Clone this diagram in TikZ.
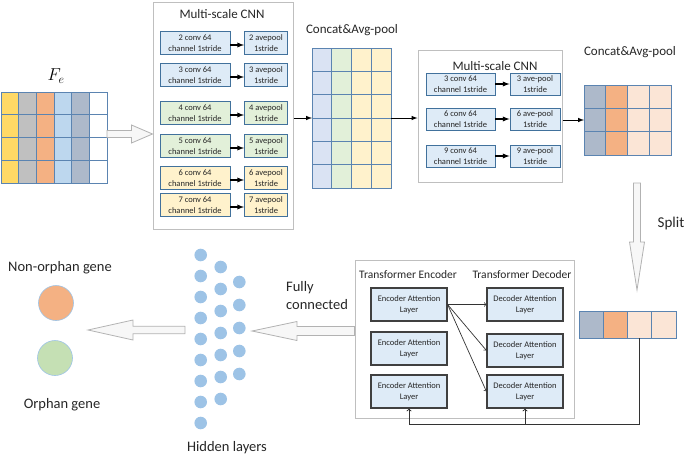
\documentclass[tikz,border=0pt]{standalone}
\usepackage{fontspec}
\setmainfont{Carlito}
\usetikzlibrary{calc}

\definecolor{fyellow}{HTML}{FFD966}
\definecolor{fgray}{HTML}{C0C0C0}
\definecolor{forange}{HTML}{F4B183}
\definecolor{fblue}{HTML}{BDD7EE}
\definecolor{fslate}{HTML}{ADB9CA}
\definecolor{lblue}{HTML}{DAE3F3}
\definecolor{lgreen}{HTML}{E2F0D9}
\definecolor{lyellow}{HTML}{FFF2CC}
\definecolor{peach}{HTML}{FBE5D6}
\definecolor{gridline}{HTML}{5B84B1}
\definecolor{boxline}{HTML}{41719C}
\definecolor{boxblue}{HTML}{DEEBF7}
\definecolor{dotblue}{HTML}{9DC3E6}
\definecolor{ggreen}{HTML}{C5E0B4}
\definecolor{framegray}{HTML}{BFBFBF}
\definecolor{txt}{HTML}{262626}

\newcommand{\boxsize}{\fontsize{8.5}{10.5}\selectfont}
\newcommand{\titlesize}{\fontsize{13}{15}\selectfont}
\newcommand{\trsize}{\fontsize{11.5}{13}\selectfont}
\newcommand{\labelsize}{\fontsize{14.5}{18}\selectfont}

% hollow block arrow: start, tip, shaft half width, head half width, head length
\newcommand{\hollowarrow}[5]{%
  \draw[hollow] ($(#1)!#3!90:(#2)$) -- ($(#2)!#5!(#1)!#3!90:(#2)$)
    -- ($(#2)!#5!(#1)!#4!90:(#2)$) -- (#2)
    -- ($(#2)!#5!(#1)!#4!-90:(#2)$) -- ($(#2)!#5!(#1)!#3!-90:(#2)$)
    -- ($(#1)!#3!-90:(#2)$) -- cycle;}

\begin{document}
\begin{tikzpicture}[x=1pt,y=-1pt,>=latex,
  frame/.style={draw=framegray,line width=1pt,inner sep=0pt},
  title/.style={text=txt,font=\titlesize,inner sep=0pt},
  cell/.style={draw=gridline,line width=0.8pt},
  cellnode/.style={draw=gridline,line width=0.8pt,inner sep=0pt,outer sep=0pt},
  matrixbox/.style={inner sep=0pt,outer sep=0pt},
  convbox/.style={draw=boxline,line width=0.9pt,inner sep=0.5pt,align=center,
    text=txt,font=\boxsize,minimum height=23pt},
  attbox/.style={draw=black!75,line width=1.1pt,fill=boxblue,inner sep=0.5pt,
    align=center,text=txt,font=\boxsize,minimum width=76pt,minimum height=33pt},
  cnnarrow/.style={->,line width=1.3pt},
  thinarrow/.style={-to,line width=0.7pt,draw=black!80},
  hollow/.style={draw=gray!60,fill=gray!6,line width=0.8pt,line join=miter},
  dot/.style={circle,fill=dotblue,inner sep=0pt,minimum size=12.6pt},
  label/.style={text=txt,font=\labelsize,inner sep=0pt}]
\useasboundingbox (0,0) rectangle (685,458);

% input matrix
\foreach \col [count=\i from 0] in {fyellow,fgray,forange,fblue,fslate,white}
  \foreach \r in {0,...,3}
    \filldraw[cell,fill=\col] (1+\i*17.67,92+\r*22.75) rectangle ++(17.67,22.75);
\node[matrixbox,minimum width=106pt,minimum height=91pt] (fe) at (54,137.5) {};
\node[inner sep=0pt] (felabel) at (56,76) {\fontsize{18}{20}\selectfont$F_e$};

% first multi-scale CNN
\node[frame,minimum width=140pt,minimum height=227pt] (cnnA) at (223,115.5) {};
\node[title] (cnnAtitle) at (222,14) {Multi-scale CNN};
\foreach \k/\cy/\fc in {2/43/boxblue,3/75/boxblue,4/113/lgreen,5/146/lgreen,6/178/lyellow,7/205/lyellow} {
  \node[convbox,fill=\fc,minimum width=70pt] (conv\k) at (195,\cy) {\k\ conv 64\\channel 1stride};
  \node[convbox,fill=\fc,minimum width=43pt] (pool\k) at (266,\cy) {\k\ avepool\\1stride};
  \draw[cnnarrow] ([yshift=-2pt]conv\k.east) -- ([yshift=-2pt]pool\k.west);
}
\coordinate (feR) at (fe.east |- 0,134);
\coordinate (cnnAL) at (cnnA.west |- 0,134);
\hollowarrow{feR}{cnnAL}{3.5pt}{9pt}{21pt}

% first concat matrix
\foreach \col [count=\i from 0] in {lblue,lgreen,lyellow,lyellow}
  \foreach \r in {0,...,5}
    \filldraw[cell,fill=\col] (312+\i*19.75,48+\r*23.33) rectangle ++(19.75,23.33);
\node[matrixbox,minimum width=79pt,minimum height=140pt] (m1) at (351.5,118) {};
\node[title] (m1title) at (352,30) {Concat\&Avg-pool};
\draw[cnnarrow,line width=1pt] (cnnA.east |- m1) -- (m1.west);

% second multi-scale CNN
\node[frame,minimum width=144pt,minimum height=132pt] (cnnB) at (490,116) {};
\node[title] (cnnBtitle) at (495,66) {Multi-scale CNN};
\foreach \k/\cy in {3/84,6/119,9/156} {
  \node[convbox,fill=boxblue,minimum width=69pt,minimum height=22pt] (convB\k) at (460.5,\cy) {\k\ conv 64\\channel 1stride};
  \node[convbox,fill=boxblue,minimum width=50pt,minimum height=22pt] (poolB\k) at (535,\cy) {\k\ ave-pool\\1stride};
  \draw[cnnarrow] (convB\k.east) -- (poolB\k.west);
}
\draw[cnnarrow,line width=1pt] (m1.east) -- (m1.east -| cnnB.west);

% second concat matrix
\foreach \col [count=\i from 0] in {fslate,forange,peach,peach}
  \foreach \r in {0,...,2}
    \filldraw[cell,fill=\col] (584+\i*21.75,85+\r*23.33) rectangle ++(21.75,23.33);
\node[matrixbox,minimum width=87pt,minimum height=70pt] (m2) at (627.5,120) {};
\node[title] (m2title) at (630,52) {Concat\&Avg-pool};
\draw[cnnarrow,line width=1pt] (cnnB.east |- m2) -- (m2.west);

% split
\coordinate (splittop) at (637,183);
\coordinate (splittip) at (637,290);
\hollowarrow{splittop}{splittip}{3.5pt}{7.5pt}{48pt}
\node[label,font=\fontsize{15}{18}\selectfont] (split) at (671,223) {Split};
\foreach \col [count=\i] in {fslate,forange,peach,peach}
  \node[cellnode,fill=\col,minimum width=24.25pt,minimum height=27pt] (m3-\i) at (579+\i*24.25-12.125,324.5) {};

% transformer
\node[frame,minimum width=219pt,minimum height=158pt] (tbox) at (464.5,339) {};
\node[text=txt,font=\trsize,inner sep=0pt] (enctitle) at (408,275) {Transformer Encoder};
\node[text=txt,font=\trsize,inner sep=0pt] (dectitle) at (522,275) {Transformer Decoder};
\foreach \k/\ey/\dy in {1/304.5/304.5,2/348.5/350.5,3/391.5/391.5} {
  \node[attbox] (enc\k) at (409,\ey) {Encoder Attention\\Layer};
  \node[attbox] (dec\k) at (525,\dy) {Decoder Attention\\Layer};
  \draw[thinarrow] (enc1.east) -- (dec\k.west);
}
\draw[thinarrow,line width=0.9pt] (m3-3.south) -- ++(0,86) coordinate (fbcorner) -| (enc3.south);
\draw[thinarrow,line width=0.9pt] (fbcorner -| dec3.south) -- (dec3.south);

% fully connected and hidden layers
\coordinate (fctip) at (252,331);
\coordinate (fcstart) at (tbox.west |- fctip);
\hollowarrow{fcstart}{fctip}{4.5pt}{9.5pt}{45pt}
\node[label,align=left,anchor=west] (fc) at (286,296) {Fully\\connected};
\foreach \j in {0,...,8}
  \node[dot] (ha\j) at (200.7,255+\j*21) {};
\foreach \j in {0,...,6}
  \node[dot] (hb\j) at (220.7,267+\j*22) {};
\foreach \j in {0,...,4}
  \node[dot] (hc\j) at (239.3,282+\j*23) {};
\node[label] (hidden) at (227,448) {Hidden layers};

% output
\coordinate (outstart) at (185,330);
\coordinate (outtip) at (88,330);
\hollowarrow{outstart}{outtip}{3.8pt}{10pt}{45pt}
\node[circle,draw=dotblue,line width=0.6pt,fill=forange,minimum size=35pt,inner sep=0pt] (nonorphan) at (56,303) {};
\node[circle,draw=dotblue,line width=0.6pt,fill=ggreen,minimum size=35pt,inner sep=0pt] (orphan) at (55,358) {};
\node[label] (nonlabel) at (60,268) {Non-orphan gene};
\node[label] (orlabel) at (62,405) {Orphan gene};
\end{tikzpicture}
\end{document}
